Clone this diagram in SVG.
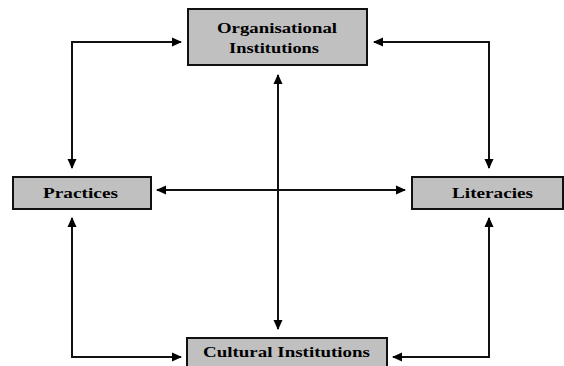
<svg xmlns="http://www.w3.org/2000/svg" width="564" height="366" viewBox="0 0 564 366">
<style>
.box{fill:#c0c0c0;stroke:#111;stroke-width:2}
.lbl{font-family:"Liberation Serif","Times New Roman",serif;font-weight:bold;font-size:14px;fill:#000}
.ln{fill:none;stroke:#111;stroke-width:2;marker-start:url(#ah);marker-end:url(#ah)}
</style>
<defs>
<marker id="ah" markerUnits="userSpaceOnUse" markerWidth="10" markerHeight="10" viewBox="0 0 10 10" refX="9" refY="5" orient="auto-start-reverse">
<path d="M0,0.5 L10,5 L0,9.5 z" fill="#000"/>
</marker>
</defs>
<rect width="564" height="366" fill="#fff"/>
<g id="connectors">
<path class="ln" d="M72,168 V42 H181"/>
<path class="ln" d="M374,42 H489 V168"/>
<path class="ln" d="M72,218 V357 H181"/>
<path class="ln" d="M489,218 V357 H393"/>
<path class="ln" d="M278,75 V329"/>
<path class="ln" d="M157,190 H405"/>
</g>
<g id="organisational">
<rect class="box" x="188" y="9" width="179" height="56"/>
<text class="lbl" x="277" y="33" text-anchor="middle" textLength="120" lengthAdjust="spacingAndGlyphs">Organisational</text>
<text class="lbl" x="274" y="53" text-anchor="middle" textLength="90" lengthAdjust="spacingAndGlyphs">Institutions</text>
</g>
<g id="practices">
<rect class="box" x="13" y="177" width="138" height="32"/>
<text class="lbl" x="80.5" y="198" text-anchor="middle" textLength="75" lengthAdjust="spacingAndGlyphs">Practices</text>
</g>
<g id="literacies">
<rect class="box" x="412" y="177" width="151" height="32"/>
<text class="lbl" x="492.5" y="198" text-anchor="middle" textLength="81" lengthAdjust="spacingAndGlyphs">Literacies</text>
</g>
<g id="cultural">
<rect class="box" x="187" y="338" width="200" height="40"/>
<text class="lbl" x="286.5" y="357" text-anchor="middle" textLength="167" lengthAdjust="spacingAndGlyphs">Cultural Institutions</text>
</g>
</svg>
